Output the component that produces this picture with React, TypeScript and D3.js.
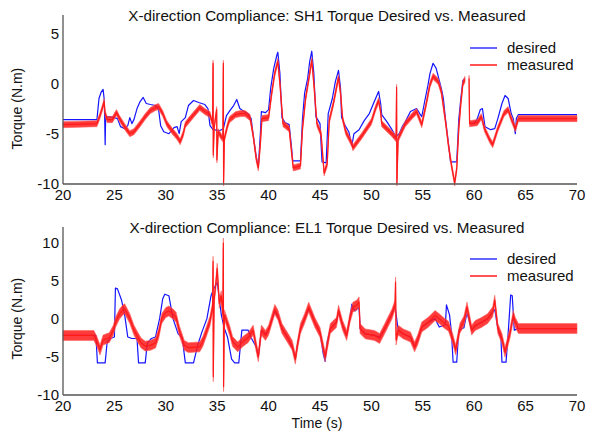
import React from 'react';
import * as d3 from 'd3';

// time axis + tick labels
const timeTicks = [20, 25, 30, 35, 40, 45, 50, 55, 60, 65, 70];
const sh1Ticks = [-10, -5, 0, 5];
const el1Ticks = [-10, -5, 0, 5, 10];

// half width of the sensor noise band seen on the measured traces (N.m)
const sh1Noise = 0.3;
const el1Noise = 0.65;

// SH1 torque, [time s, N.m]  (NaN = gap in the log)
const sh1Desired: [number, number][] = [
	[20, -3.6], [23.3, -3.6], [23.5, -1.5], [23.7, -0.9], [23.9, -0.6], [24.0, -1.5], [24.05, -3.2], [24.1, -6.1], [24.15, -3.3],
	[24.6, -3.3], [25.0, -3.4], [25.3, -3.5], [25.6, -4.3], [26.0, -4.5], [26.3, -4.2], [26.5, -3.4], [26.7, -4.0], [26.9, -3.6],
	[27.2, -2.5], [27.5, -1.8], [27.8, -1.4], [28.1, -2.0], [28.5, -2.1], [29.0, -2.2], [29.3, -2.6], [29.5, -4.2], [29.8, -4.8],
	[30.3, -5.0], [30.8, -4.4], [31.1, -4.3], [31.3, -5.0], [31.5, -3.8], [31.9, -3.4], [32.2, -2.2], [32.5, -1.9], [32.7, -1.7],
	[33.2, -1.9], [33.8, -2.1], [34.1, -2.5], [34.3, -4.2], [34.6, -4.6], [35.2, -4.7], [35.6, -4.5], [35.9, -3.2], [36.3, -2.6],
	[36.6, -2.2], [36.9, -1.6], [37.2, -2.5], [37.6, -2.8], [38.0, -3.0], [38.3, -3.5], [38.5, -5.1], [38.8, -7.3], [39.0, -8.3],
	[39.2, -5.0], [39.3, -2.8], [39.7, -2.9], [40.0, -2.6], [40.2, -0.5], [40.5, 1.5], [40.8, 2.8], [40.9, 3.1], [41.1, 1.0],
	[41.3, -3.4], [41.6, -3.9], [42.0, -4.1], [42.2, -6.0], [42.35, -7.7], [43.1, -7.7], [43.3, -3.5], [43.5, -1.0], [43.8, 0.5],
	[44.0, 2.2], [44.2, 3.2], [44.4, 1.0], [44.6, -3.3], [45.0, -4.0], [45.2, -7.8], [45.6, -7.9], [45.8, -3.0], [46.2, -1.5],
	[46.5, 0.2], [46.8, 1.3], [47.0, -0.5], [47.1, -3.4], [47.5, -4.3], [47.8, -4.8], [48.1, -6.2], [48.3, -5.0], [48.8, -4.6],
	[49.3, -3.7], [49.8, -3.0], [50.2, -2.0], [50.7, -0.8], [50.9, -2.0], [51.0, -3.1], [51.5, -3.8], [52.0, -4.6], [52.4, -5.3],
	[52.7, -5.0], [53.0, -4.3], [53.3, -3.8], [53.8, -2.8], [54.4, -2.5], [54.7, -3.0], [54.9, -3.3], [55.2, -1.7], [55.5, -0.2],
	[55.7, 1.0], [56.0, 2.0], [56.3, 1.5], [56.6, 0.3], [56.8, -0.5], [57.0, -1.5], [57.2, -3.5], [57.5, -6.0], [57.7, -7.8],
	[58.3, -7.8], [58.5, -3.6], [58.7, -1.5], [58.9, 0.3], [59.1, 0.5], [59.3, NaN], [59.6, -4.0], [60.0, -4.0], [60.3, -3.5],
	[60.6, -2.6], [60.8, -2.5], [61.05, -4.3], [61.6, -4.6], [62.0, -4.5], [62.3, -3.5], [62.7, -2.0], [63.0, -1.2], [63.3, -1.5],
	[63.6, -3.0], [63.8, -3.5], [64.0, -5.0], [64.1, -3.5], [64.3, -3.1], [70, -3.1],
];

const sh1Measured: [number, number][] = [
	[20, -4.1], [23.3, -4.0], [23.6, -3.2], [23.9, -2.2], [24.0, -1.8], [24.1, -3.0], [24.3, -3.6], [24.8, -3.6], [25.2, -2.9],
	[25.5, -3.5], [26.0, -4.3], [26.5, -5.0], [26.9, -4.8], [27.5, -4.0], [28.0, -3.3], [28.5, -2.7], [29.0, -2.4], [29.3, -2.3],
	[29.7, -3.0], [30.1, -4.0], [30.6, -4.7], [31.1, -5.3], [31.4, -5.8], [31.7, -5.0], [31.9, -4.1], [32.3, -3.6], [32.8, -3.0],
	[33.3, -2.4], [33.8, -2.8], [34.3, -3.1], [34.55, -4.0], [34.6, 2.0], [34.62, -7.1], [34.7, -4.4], [34.95, -2.6], [34.97, -7.6],
	[35.1, -4.8], [35.4, -5.3], [35.55, -5.5], [35.6, 2.0], [35.62, -9.9], [35.7, -5.5], [36.0, -4.2], [36.2, -3.6], [36.8, -3.1],
	[37.3, -3.0], [37.7, -3.0], [38.2, -3.4], [38.5, -5.2], [38.8, -7.5], [39.0, -8.4], [39.2, -6.0], [39.35, -3.5], [40.0, -3.4],
	[40.3, -1.0], [40.6, 1.0], [40.9, 2.2], [41.1, 0.0], [41.4, -4.0], [42.0, -4.5], [42.2, -6.5], [42.4, -8.4], [43.1, -8.2],
	[43.3, -4.5], [43.6, -1.5], [44.0, 1.0], [44.2, 2.3], [44.4, 0.0], [44.7, -4.0], [45.1, -5.0], [45.4, -8.9], [45.7, -8.0],
	[45.9, -3.7], [46.3, -2.0], [46.8, 0.6], [47.0, -1.0], [47.2, -3.5], [47.5, -4.8], [48.1, -6.0], [48.2, -6.4], [49.0, -5.3],
	[50.0, -3.8], [50.4, -2.5], [50.7, -1.7], [50.9, -2.8], [51.0, -4.0], [52.0, -5.0], [52.4, -5.5], [52.45, -0.4], [52.48, -9.9],
	[52.6, -5.5], [53.3, -4.0], [54.0, -3.2], [54.4, -2.8], [54.9, -4.1], [55.3, -2.2], [55.7, -0.1], [56.0, 0.7], [56.5, 0.2],
	[56.8, -0.8], [57.2, -3.7], [57.5, -6.2], [57.8, -8.2], [58.1, -9.9], [58.3, -8.5], [58.5, -4.5], [58.7, -2.0], [58.9, 0.0],
	[59.1, 0.4], [59.3, NaN], [59.5, 0.5], [59.55, -4.0], [60.3, -3.9], [60.7, -3.3], [61.0, -4.5], [61.5, -5.6], [61.8, -6.1],
	[62.3, -4.5], [62.9, -3.0], [63.3, -2.6], [63.6, -3.5], [64.0, -4.5], [64.3, -3.5], [70, -3.5],
];

// EL1 torque, [time s, N.m]
const el1Desired: [number, number][] = [
	[20, -2.2], [23.2, -2.2], [23.35, -5.8], [24.1, -5.8], [24.3, -3.0], [24.6, -2.6], [25.0, -2.4], [25.1, 4.0], [25.3, 3.9],
	[25.7, 2.4], [26.0, 0.5], [26.3, -2.4], [26.7, -2.6], [27.2, -2.6], [27.35, -5.8], [28.0, -5.8], [28.2, -3.2], [28.6, -2.6],
	[29.0, -2.4], [29.4, 0.0], [29.7, 2.6], [29.9, 3.2], [30.3, 3.0], [30.7, 0.0], [31.2, -2.0], [31.6, -2.5], [31.9, -5.8],
	[32.7, -5.8], [33.1, -3.5], [33.5, -1.8], [34.0, 0.0], [34.4, 3.0], [34.6, 3.7], [35.0, 4.8], [35.4, 0.5], [35.7, -1.3],
	[36.0, -2.4], [36.4, -5.3], [36.7, -5.8], [37.1, -5.8], [37.4, -1.5], [38.0, -1.5], [38.3, -2.5], [38.8, -3.7], [39.0, -5.0],
	[39.3, -1.5], [39.7, -2.0], [40.0, -1.5], [40.6, 1.0], [40.9, 0.3], [41.3, -1.3], [41.9, -2.6], [42.3, -3.8], [42.6, -5.3],
	[42.8, -3.5], [43.1, -1.3], [43.5, 0.0], [43.9, 1.3], [44.2, 0.6], [44.5, -0.5], [45.0, -1.8], [45.3, -4.5], [45.5, -5.6],
	[45.7, -3.0], [46.0, -1.3], [46.6, -0.5], [46.8, 1.0], [47.2, -0.9], [47.6, -2.2], [47.9, 0.0], [48.1, 1.9], [48.4, 1.0],
	[48.8, 1.5], [48.9, -1.3], [49.4, -2.0], [50.3, -2.2], [50.8, -2.4], [51.3, -1.3], [52.0, 0.6], [52.3, 1.7], [52.6, -1.5],
	[53.1, -2.0], [53.8, -2.4], [54.2, -3.7], [54.5, -2.8], [54.9, -1.1], [55.5, -0.5], [56.2, 0.0], [56.6, -1.1], [57.2, -0.8],
	[57.3, 1.8], [57.6, 0.5], [57.8, -2.0], [57.95, -5.7], [58.3, -5.7], [58.5, -1.5], [59.0, -1.2], [59.3, 0.8], [59.75, -1.5],
	[60.1, -0.9], [60.7, -0.5], [61.3, 0.0], [61.8, 0.8], [62.0, 1.2], [62.3, -1.3], [62.6, -2.5], [62.7, -5.7], [63.1, -5.7],
	[63.3, -2.0], [63.55, 3.1], [63.7, 3.0], [63.9, -1.5], [64.3, -1.3], [70, -1.3],
];

const el1Measured: [number, number][] = [
	[20, -2.2], [23.0, -2.2], [23.3, -3.0], [23.6, -4.1], [23.9, -2.8], [24.5, -2.5], [24.9, -1.5], [25.1, -0.5], [25.5, 0.6],
	[25.8, 1.1], [26.0, 1.3], [26.5, 0.0], [26.9, -1.5], [27.3, -2.5], [27.6, -3.2], [28.0, -3.6], [28.5, -3.5], [29.0, -3.2],
	[29.3, -2.0], [29.6, 0.0], [30.0, 0.8], [30.3, 1.0], [30.7, 0.6], [31.0, 0.2], [31.3, -1.5], [31.8, -3.5], [32.2, -3.8],
	[33.3, -3.7], [33.6, -3.0], [34.0, -1.5], [34.3, -0.3], [34.55, 1.5], [34.6, 7.5], [34.62, -7.6], [34.7, 2.5], [34.9, 5.0],
	[35.0, 6.6], [35.2, 2.0], [35.4, 3.0], [35.55, 0.5], [35.6, 9.9], [35.62, -8.9], [35.7, 0.5], [36.2, -1.5], [36.5, -3.0],
	[37.0, -3.7], [37.5, -3.0], [38.0, -2.5], [38.5, -1.5], [38.8, -3.7], [39.0, -5.0], [39.3, -1.5], [39.7, -2.2], [40.0, -1.5],
	[40.6, 1.2], [40.9, 0.5], [41.3, -1.3], [41.9, -2.6], [42.3, -3.5], [42.6, -5.3], [42.8, -3.5], [43.1, -1.3], [43.5, 0.0],
	[43.9, 1.5], [44.2, 0.5], [44.5, -0.5], [45.0, -1.8], [45.5, -5.0], [46.0, -1.3], [46.6, -0.5], [46.8, 1.1], [47.2, -0.9],
	[47.6, -2.2], [47.9, 0.0], [48.2, 1.5], [48.6, 1.8], [48.8, 2.2], [48.9, -1.3], [49.4, -2.0], [50.3, -2.2], [50.8, -2.6],
	[51.3, -1.3], [52.0, 0.6], [52.3, 1.8], [52.35, 4.8], [52.4, -2.8], [52.6, -1.5], [53.1, -2.0], [53.8, -2.4], [54.2, -3.7],
	[54.5, -2.8], [54.9, -1.1], [55.5, -0.5], [56.2, 0.4], [56.6, 0.0], [57.0, -0.5], [57.5, -1.0], [57.9, -2.6], [58.2, -4.1],
	[58.6, -1.3], [59.0, -0.3], [59.3, 1.5], [59.75, -1.5], [60.1, -0.9], [60.7, -0.5], [61.3, 0.0], [61.8, 0.9], [62.0, 2.4],
	[62.3, -1.3], [62.7, -2.6], [63.0, -4.4], [63.5, -1.8], [63.8, 0.4], [64.0, -0.5], [64.3, -1.3], [70, -1.3],
];

const FONT = '"Liberation Sans", Arial, Helvetica, sans-serif';
const LEFT = 63;
const RIGHT = 577;
const BLUE = '#1414ff';
const RED = '#ff1a1a';

type PanelProps = {
	title: string,
	desired: [number, number][],
	measured: [number, number][],
	noise: number,
	yDomain: [number, number],
	yRange: [number, number],
	yTicks: number[],
	legendY: number,
	xLabel?: string,
};

const Panel = ({ title, desired, measured, noise, yDomain, yRange, yTicks, legendY, xLabel }: PanelProps) => {
	const x = d3.scaleLinear().domain([20, 70]).range([LEFT, RIGHT]);
	const y = d3.scaleLinear().domain(yDomain).range(yRange);

	const line = d3.line<[number, number]>()
		.defined(d => !isNaN(d[1]))
		.x(d => x(d[0]))
		.y(d => y(d[1]));

	// noise band round the measured trace
	const band = d3.area<[number, number]>()
		.defined(d => !isNaN(d[1]))
		.x(d => x(d[0]))
		.y0(d => y(d[1] - noise))
		.y1(d => y(d[1] + noise));

	const bottom = yRange[0];
	const top = yRange[1];
	const labelMid = (y(yTicks[0]) + y(yTicks[yTicks.length - 1])) / 2;

	return (
		<g>
			<text x={327} y={top + 6} textAnchor="middle" fontSize={15.2} fill="#111">{title}</text>

			<path d={line(desired) ?? ''} fill="none" stroke={BLUE} strokeWidth={1.2} strokeLinejoin="round" />
			<path d={band(measured) ?? ''} fill={RED} fillOpacity={0.85} stroke="#ff6060" strokeWidth={0.6} />
			<path d={line(measured) ?? ''} fill="none" stroke={RED} strokeWidth={1.2} strokeLinejoin="round" />

			{/* axes */}
			<line x1={LEFT} x2={LEFT} y1={top} y2={bottom} stroke="#555" strokeWidth={1.3} />
			<line x1={LEFT} x2={RIGHT} y1={bottom} y2={bottom} stroke="#555" strokeWidth={1.3} />

			{timeTicks.map(t => (
				<text key={t} x={x(t)} y={bottom + 16} textAnchor="middle" fontSize={15} fill="#111">{t}</text>
			))}
			{yTicks.map(v => (
				<text key={v} x={LEFT - 4} y={y(v)} dy="0.36em" textAnchor="end" fontSize={15} fill="#111">{v}</text>
			))}
			<text transform={`translate(22,${labelMid}) rotate(-90)`} textAnchor="middle" fontSize={14} fill="#111">Torque (N.m)</text>
			{xLabel && (
				<text x={317} y={bottom + 33} textAnchor="middle" fontSize={14} fill="#111">{xLabel}</text>
			)}

			{/* legend */}
			<line x1={470} x2={497} y1={legendY} y2={legendY} stroke={BLUE} strokeWidth={1.3} />
			<text x={507} y={legendY} dy="0.35em" fontSize={15} fill="#111">desired</text>
			<line x1={470} x2={497} y1={legendY + 17} y2={legendY + 17} stroke={RED} strokeWidth={1.5} />
			<text x={507} y={legendY + 17} dy="0.35em" fontSize={15} fill="#111">measured</text>
		</g>
	);
};

export default function App() {
	return (
		<svg width={593} height={434} style={{ position: 'absolute', left: 0, top: 0, background: '#fff', fontFamily: FONT }}>
			<Panel
				title="X-direction Compliance: SH1 Torque Desired vs. Measured"
				desired={sh1Desired}
				measured={sh1Measured}
				noise={sh1Noise}
				yDomain={[-10, 6.8]}
				yRange={[184, 15]}
				yTicks={sh1Ticks}
				legendY={48}
			/>
			<Panel
				title="X-direction Compliance: EL1 Torque Desired vs. Measured"
				desired={el1Desired}
				measured={el1Measured}
				noise={el1Noise}
				yDomain={[-10, 12]}
				yRange={[395, 227]}
				yTicks={el1Ticks}
				legendY={259}
				xLabel="Time (s)"
			/>
		</svg>
	);
}
